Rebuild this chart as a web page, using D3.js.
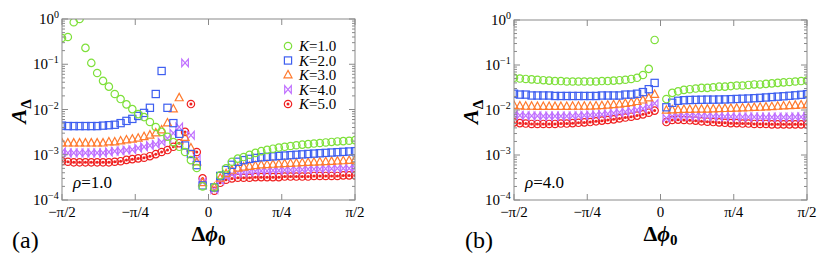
<!DOCTYPE html>
<html>
<head>
<meta charset="utf-8">
<script src="https://cdn.jsdelivr.net/npm/d3@7"></script>
<style>
  body { margin: 0; background: #fff; }
</style>
</head>
<body>
<div id="chart"></div>
<script>
// phase steps, in units of pi/50 (0 is skipped)
const phiSteps = [-25,-24,-23,-22,-21,-20,-19,-18,-17,-16,-15,-14,-13,-12,-11,-10,-9,-8,-7,-6,-5,-4,-3,-2,-1,
                  1,2,3,4,5,6,7,8,9,10,11,12,13,14,15,16,17,18,19,20,21,22,23,24,25];

const kLabels = ["1.0", "2.0", "3.0", "4.0", "5.0"];
const rhoLabels = ["1.0", "4.0"];
const panelTags = ["(a)", "(b)"];
const xTickLabels = ["\u2212\u03c0/2", "\u2212\u03c0/4", "0", "\u03c0/4", "\u03c0/2"];
const xTickValues = [-Math.PI / 2, -Math.PI / 4, 0, Math.PI / 4, Math.PI / 2];
const yTickExps = [0, -1, -2, -3, -4];

// rho = 1.0
const a1 = [0.38, 0.40, 0.85, 1.0, 0.23, 0.107, 0.064, 0.043, 0.032, 0.022, 0.017, 0.013, 0.0102, 0.0079, 0.0068, 0.0053, 0.0041, 0.0032, 0.0025, 0.0019, 0.0015, 0.00115, 0.00076, 0.00051, 0.0002,
            0.00019, 0.00035, 0.0005, 0.0007, 0.00082, 0.00089, 0.001, 0.0011, 0.0012, 0.00128, 0.00136, 0.00144, 0.0015, 0.00156, 0.00162, 0.00167, 0.00172, 0.00177, 0.00182, 0.00187, 0.00192, 0.00197, 0.002, 0.00204, 0.0021];
const a2 = [0.0044, 0.0043, 0.0043, 0.0043, 0.0043, 0.0043, 0.0043, 0.0044, 0.0045, 0.0046, 0.005, 0.0056, 0.0062, 0.0072, 0.0084, 0.0109, 0.022, 0.071, 0.0109, 0.005, 0.0029, 0.0016, 0.00104, 0.00059, 0.00021,
            0.00019, 0.00034, 0.00046, 0.0006, 0.0007, 0.00076, 0.00081, 0.00085, 0.00088, 0.0009, 0.00092, 0.00094, 0.00096, 0.00098, 0.001, 0.00102, 0.00104, 0.00106, 0.00108, 0.0011, 0.00112, 0.00114, 0.00116, 0.00118, 0.0012];
const a3 = [0.0018, 0.0018, 0.0018, 0.0018, 0.0018, 0.0018, 0.0018, 0.0018, 0.0019, 0.0019, 0.002, 0.0021, 0.0022, 0.0023, 0.0025, 0.0027, 0.003, 0.0035, 0.005, 0.0102, 0.018, 0.0024, 0.0014, 0.00069, 0.00024,
            0.00019, 0.0003, 0.00038, 0.00045, 0.0005, 0.00053, 0.00055, 0.00057, 0.00059, 0.0006, 0.00061, 0.00062, 0.00063, 0.00064, 0.00065, 0.00066, 0.00067, 0.00068, 0.00069, 0.0007, 0.00071, 0.00072, 0.00073, 0.00074, 0.00076];
const a4 = [0.00115, 0.0011, 0.0011, 0.0011, 0.0011, 0.0011, 0.0011, 0.0011, 0.00115, 0.0012, 0.00121, 0.00127, 0.0013, 0.0014, 0.0015, 0.0016, 0.0017, 0.0019, 0.0023, 0.003, 0.0041, 0.107, 0.0027, 0.0008, 0.00025,
            0.00017, 0.00027, 0.00033, 0.00037, 0.0004, 0.00041, 0.00042, 0.00043, 0.00044, 0.00044, 0.00045, 0.00045, 0.00046, 0.00046, 0.00047, 0.00047, 0.00048, 0.00048, 0.00048, 0.00049, 0.00049, 0.0005, 0.0005, 0.0005, 0.00051];
const a5 = [0.00072, 0.0007, 0.00068, 0.00068, 0.00068, 0.00068, 0.00068, 0.00068, 0.00068, 0.0007, 0.00072, 0.00077, 0.0008, 0.00083, 0.00086, 0.00093, 0.00103, 0.00115, 0.00127, 0.0015, 0.0018, 0.0032, 0.0132, 0.00115, 0.0003,
            0.00016, 0.00024, 0.00028, 0.0003, 0.00031, 0.00031, 0.00031, 0.00032, 0.00032, 0.00032, 0.00032, 0.00032, 0.00033, 0.00033, 0.00033, 0.00033, 0.00033, 0.00034, 0.00034, 0.00034, 0.00034, 0.00034, 0.00035, 0.00035, 0.00035];

// rho = 4.0
const b1 = [0.052, 0.050, 0.049, 0.048, 0.047, 0.046, 0.045, 0.044, 0.044, 0.043, 0.043, 0.043, 0.043, 0.043, 0.043, 0.044, 0.044, 0.045, 0.046, 0.047, 0.049, 0.052, 0.06, 0.082, 0.36,
            0.0175, 0.024, 0.026, 0.028, 0.029, 0.030, 0.031, 0.031, 0.032, 0.033, 0.033, 0.034, 0.035, 0.035, 0.036, 0.037, 0.037, 0.038, 0.039, 0.040, 0.041, 0.042, 0.043, 0.044, 0.045];
const b2 = [0.023, 0.022, 0.022, 0.021, 0.021, 0.021, 0.021, 0.0205, 0.0205, 0.0205, 0.0205, 0.0205, 0.0205, 0.0205, 0.0205, 0.021, 0.021, 0.021, 0.021, 0.022, 0.022, 0.023, 0.025, 0.029, 0.040,
            0.0115, 0.0145, 0.016, 0.0165, 0.0167, 0.0168, 0.0169, 0.017, 0.017, 0.0171, 0.0172, 0.0174, 0.0176, 0.0178, 0.018, 0.0183, 0.0186, 0.019, 0.0194, 0.0198, 0.0202, 0.0207, 0.0212, 0.0218, 0.0225];
const b3 = [0.0125, 0.0122, 0.012, 0.012, 0.0119, 0.0119, 0.0119, 0.0119, 0.0119, 0.0119, 0.012, 0.012, 0.012, 0.0121, 0.0122, 0.0124, 0.0127, 0.013, 0.0134, 0.0139, 0.0145, 0.0153, 0.0165, 0.0185, 0.022,
            0.0098, 0.0100, 0.0101, 0.0102, 0.0102, 0.0103, 0.0103, 0.0104, 0.0105, 0.0106, 0.0107, 0.0108, 0.0109, 0.011, 0.0111, 0.0113, 0.0114, 0.0116, 0.0118, 0.012, 0.0122, 0.0124, 0.0126, 0.0128, 0.013];
const b4 = [0.0078, 0.0076, 0.0075, 0.0074, 0.0074, 0.0073, 0.0073, 0.0073, 0.0073, 0.0073, 0.0074, 0.0075, 0.0076, 0.0077, 0.0078, 0.008, 0.0082, 0.0085, 0.0088, 0.0091, 0.0095, 0.01, 0.0107, 0.0118, 0.014,
            0.0066, 0.0072, 0.0074, 0.0074, 0.0074, 0.0074, 0.0073, 0.0073, 0.0072, 0.0072, 0.0071, 0.0071, 0.007, 0.007, 0.007, 0.007, 0.0069, 0.0069, 0.0069, 0.0069, 0.0069, 0.0069, 0.007, 0.007, 0.0071];
const b5 = [0.0053, 0.0051, 0.005, 0.0049, 0.0049, 0.0049, 0.0049, 0.0049, 0.005, 0.005, 0.0051, 0.0052, 0.0053, 0.0054, 0.0056, 0.0058, 0.006, 0.0062, 0.0065, 0.0068, 0.0071, 0.0075, 0.008, 0.0087, 0.0097,
            0.0054, 0.006, 0.0061, 0.006, 0.0059, 0.0058, 0.0056, 0.0055, 0.0054, 0.0053, 0.0052, 0.0051, 0.0051, 0.005, 0.005, 0.0049, 0.0049, 0.0049, 0.0048, 0.0048, 0.0048, 0.0048, 0.0048, 0.0048, 0.0048];

const colors = ["#7ee03a", "#3d5ef0", "#ff7a2e", "#c070ff", "#f02020"];
const shapes = ["circle", "square", "triangle", "bowtie", "dotcircle"];

const width = 817, height = 265;
const serif = "Liberation Serif";

const svg = d3.select("#chart")
  .append("svg")
  .attr("width", width)
  .attr("height", height);

// every text gets its own font settings
function label(parent, size, opts = {}) {
  return parent.append("text")
    .style("font-family", serif)
    .style("font-size", size + "px")
    .style("font-weight", opts.bold ? "bold" : "normal")
    .style("font-style", "normal");
}
function span(t, str, opts = {}) {
  const s = t.append("tspan")
    .style("font-family", serif)
    .style("font-style", opts.italic ? "italic" : "normal")
    .text(str);
  if (opts.size) s.style("font-size", opts.size + "px");
  if (opts.dy) s.attr("dy", opts.dy);
  return s;
}

function drawMarker(g, shape, color) {
  if (shape === "circle") {
    g.append("circle").attr("r", 3.7).attr("fill", "none").attr("stroke", color).attr("stroke-width", 1.2);
  } else if (shape === "square") {
    g.append("rect").attr("x", -3.6).attr("y", -3.6).attr("width", 7.2).attr("height", 7.2)
      .attr("fill", "none").attr("stroke", color).attr("stroke-width", 1.2);
  } else if (shape === "triangle") {
    g.append("path").attr("d", "M0,-4.6L4,2.8L-4,2.8Z")
      .attr("fill", "none").attr("stroke", color).attr("stroke-width", 1.2);
  } else if (shape === "bowtie") {
    g.append("path").attr("d", "M-3.3,-3.8L3.3,3.8L3.3,-3.8L-3.3,3.8Z")
      .attr("fill", "none").attr("stroke", color).attr("stroke-width", 1.2);
  } else {
    g.append("circle").attr("r", 3.7).attr("fill", "none").attr("stroke", color).attr("stroke-width", 1.2);
    g.append("circle").attr("r", 1.5).attr("fill", color);
  }
}

function drawPanel(p) {
  const x = d3.scaleLinear()
    .domain([-Math.PI / 2, Math.PI / 2])
    .range([p.left, p.right]);
  const y = d3.scaleLog()
    .domain([1e-4, 1])
    .range([p.bottom, p.top]);

  const clipId = "clip" + p.tag;
  svg.append("clipPath").attr("id", clipId)
    .append("rect")
    .attr("x", p.left).attr("y", p.top)
    .attr("width", p.right - p.left).attr("height", p.bottom - p.top);

  // data points, drawn back to front
  const plot = svg.append("g").attr("clip-path", `url(#${clipId})`);
  for (let s = p.series.length - 1; s >= 0; s--) {
    const pts = phiSteps.map((k, i) => ({ phi: k * Math.PI / 50, v: p.series[s][i] }));
    plot.append("g")
      .selectAll("g")
      .data(pts)
      .join("g")
      .attr("transform", d => `translate(${x(d.phi)},${y(d.v)})`)
      .each(function () { drawMarker(d3.select(this), shapes[s], colors[s]); });
  }

  // frame
  const frame = svg.append("g").attr("stroke", "#8a8a8a").attr("stroke-width", 1).attr("fill", "none");
  frame.append("rect")
    .attr("x", p.left).attr("y", p.top)
    .attr("width", p.right - p.left).attr("height", p.bottom - p.top);

  // y ticks, left and right, major and minor
  const minor = [];
  for (let e = -4; e < 0; e++) for (let m = 2; m <= 9; m++) minor.push(m * Math.pow(10, e));
  const major = yTickExps.map(e => Math.pow(10, e));
  frame.selectAll(".ymaj").data(major).join("path")
    .attr("class", "ymaj")
    .attr("d", d => `M${p.left},${y(d)}h6M${p.right},${y(d)}h-6`);
  frame.selectAll(".ymin").data(minor).join("path")
    .attr("class", "ymin")
    .attr("d", d => `M${p.left},${y(d)}h3M${p.right},${y(d)}h-3`);
  // x ticks, bottom and top
  frame.selectAll(".xt").data(xTickValues).join("path")
    .attr("class", "xt")
    .attr("d", d => `M${x(d)},${p.bottom}v-6M${x(d)},${p.top}v6`);

  // y tick labels
  yTickExps.forEach(e => {
    const sx = p.left - 3 - (e < 0 ? 11 : 5);
    label(svg, 15)
      .attr("text-anchor", "end")
      .attr("x", sx)
      .attr("y", y(Math.pow(10, e)) + 5)
      .text("10");
    label(svg, 10)
      .attr("x", sx)
      .attr("y", y(Math.pow(10, e)) - 1)
      .text(e === 0 ? "0" : "\u2212" + (-e));
  });

  // x tick labels
  xTickValues.forEach((v, i) => {
    label(svg, 15)
      .attr("text-anchor", "middle")
      .attr("x", x(v))
      .attr("y", p.bottom + 17)
      .text(xTickLabels[i]);
  });

  // axis titles
  const yt = label(svg, 22, { bold: true })
    .attr("transform", `translate(${p.left - 36},${(p.top + p.bottom) / 2 + 2}) rotate(-90)`)
    .attr("text-anchor", "middle");
  span(yt, "A", { italic: true });
  span(yt, "\u0394", { size: 15, dy: 5 });

  const xt = label(svg, 22, { bold: true })
    .attr("x", (p.left + p.right) / 2)
    .attr("y", 241)
    .attr("text-anchor", "middle");
  span(xt, "\u0394");
  span(xt, "\u03d5", { italic: true });
  span(xt, "0", { size: 15, dy: 4 });

  // rho label
  const rt = label(svg, 17)
    .attr("x", p.left + 11)
    .attr("y", p.bottom - 12);
  span(rt, "\u03c1", { italic: true });
  span(rt, "=" + p.rho);

  // panel tag
  label(svg, 24)
    .attr("x", p.tagX)
    .attr("y", 248)
    .text(p.tagText);
}

drawPanel({ tag: "a", left: 62, right: 355, top: 19, bottom: 200,
  series: [a1, a2, a3, a4, a5], rho: rhoLabels[0], tagText: panelTags[0], tagX: 12 });
drawPanel({ tag: "b", left: 514, right: 807, top: 20, bottom: 200,
  series: [b1, b2, b3, b4, b5], rho: rhoLabels[1], tagText: panelTags[1], tagX: 465 });

// legend (panel a)
const legendY = d3.scalePoint().domain(kLabels).range([46, 104]);
kLabels.forEach((k, i) => {
  const row = svg.append("g").attr("transform", `translate(288,${legendY(k)})`);
  drawMarker(row, shapes[i], colors[i]);
  const t = label(row, 15).attr("x", 11).attr("y", 5);
  span(t, "K", { italic: true });
  span(t, "=" + k);
});
</script>
</body>
</html>
